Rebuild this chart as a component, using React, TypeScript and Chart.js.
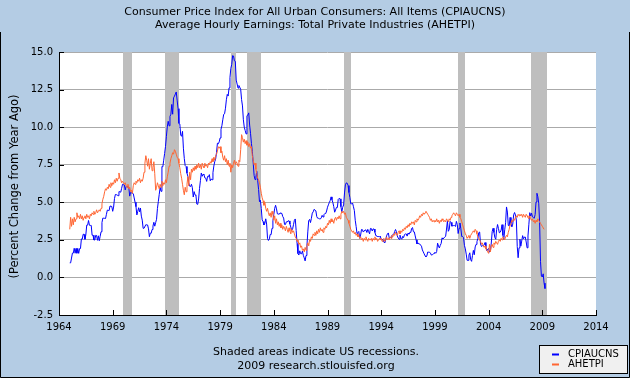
import React, { useEffect, useRef } from "react";
import { Chart, registerables } from "chart.js";

Chart.register(...registerables);

// ---------- Data ----------
const START_YEAR = 1965; // first monthly observation: January 1965

// CPIAUCNS, percent change from year ago (monthly, Jan 1965 - Apr 2009)
const cpiYoY: number[] = [
  0.97, 0.97, 1.29, 1.62, 1.62, 1.94, 1.61, 1.93, 1.61, 1.93, 1.60, 1.92,
  1.92, 2.56, 2.55, 2.87, 2.87, 2.54, 2.85, 3.48, 3.48, 3.79, 3.47, 3.46,
  3.46, 2.81, 2.81, 2.49, 2.49, 2.80, 2.79, 2.47, 2.77, 2.44, 2.74, 3.04,
  3.65, 3.95, 3.94, 3.93, 3.92, 4.20, 4.48, 4.46, 4.45, 4.75, 4.74, 4.72,
  4.40, 4.68, 5.25, 5.52, 5.51, 5.48, 5.44, 5.71, 5.70, 5.67, 5.93, 6.20,
  6.18, 6.15, 5.82, 6.06, 6.04, 6.01, 5.98, 5.41, 5.66, 5.63, 5.60, 5.57,
  5.29, 5.00, 4.71, 4.16, 4.40, 4.64, 4.36, 4.62, 4.08, 3.81, 3.27, 3.27,
  3.27, 3.51, 3.50, 3.49, 3.23, 2.71, 2.95, 2.94, 3.19, 3.42, 3.67, 3.41,
  3.65, 3.87, 4.59, 5.06, 5.53, 5.99, 5.73, 7.38, 7.36, 7.80, 8.25, 8.71,
  9.39, 10.02, 10.39, 10.09, 10.71, 10.86, 11.51, 10.86, 11.95, 12.06, 12.20, 12.34,
  11.80, 11.23, 10.25, 10.21, 9.47, 9.39, 9.72, 8.60, 7.91, 7.44, 7.38, 6.94,
  6.72, 6.29, 6.07, 6.05, 6.20, 5.97, 5.35, 5.71, 5.49, 5.46, 4.88, 4.86,
  5.22, 5.91, 6.44, 6.95, 6.73, 6.87, 6.83, 6.62, 6.60, 6.39, 6.72, 6.70,
  6.84, 6.43, 6.55, 6.50, 6.97, 7.41, 7.70, 7.87, 8.31, 8.93, 8.89, 9.02,
  9.28, 9.86, 10.09, 10.49, 10.85, 10.89, 11.26, 11.82, 12.18, 12.07, 12.61, 13.29,
  13.91, 14.18, 14.76, 14.73, 14.41, 14.38, 13.13, 12.87, 12.60, 12.77, 12.65, 12.52,
  11.83, 11.41, 10.49, 10.00, 9.78, 9.55, 10.76, 10.80, 10.95, 10.14, 9.59, 8.92,
  8.39, 7.62, 6.78, 6.51, 6.68, 7.06, 6.44, 5.85, 5.04, 5.14, 4.59, 3.83,
  3.71, 3.49, 3.60, 3.90, 3.55, 2.58, 2.46, 2.56, 2.86, 2.85, 3.27, 3.79,
  4.19, 4.60, 4.80, 4.56, 4.23, 4.22, 4.20, 4.29, 4.27, 4.26, 4.05, 3.95,
  3.53, 3.52, 3.70, 3.69, 3.77, 3.76, 3.55, 3.35, 3.14, 3.23, 3.51, 3.80,
  3.89, 3.11, 2.26, 1.59, 1.49, 1.77, 1.58, 1.57, 1.75, 1.47, 1.30, 1.10,
  1.46, 2.10, 3.03, 3.78, 3.86, 3.65, 3.93, 4.28, 4.36, 4.53, 4.53, 4.43,
  4.05, 3.94, 3.93, 3.90, 3.89, 3.96, 4.13, 4.02, 4.17, 4.25, 4.25, 4.42,
  4.67, 4.83, 4.98, 5.11, 5.36, 5.17, 4.98, 4.71, 4.34, 4.49, 4.66, 4.65,
  5.20, 5.26, 5.23, 4.71, 4.36, 4.67, 4.82, 5.62, 6.16, 6.29, 6.27, 6.11,
  5.65, 5.31, 4.90, 4.89, 4.95, 4.70, 4.45, 3.80, 3.39, 2.92, 2.99, 3.06,
  2.60, 2.82, 3.19, 3.18, 3.02, 3.09, 3.16, 3.15, 2.99, 3.20, 3.05, 2.90,
  3.26, 3.25, 3.09, 3.23, 3.22, 3.00, 2.78, 2.77, 2.69, 2.75, 2.68, 2.75,
  2.52, 2.52, 2.51, 2.36, 2.29, 2.49, 2.77, 2.90, 2.96, 2.61, 2.67, 2.67,
  2.80, 2.86, 2.85, 3.05, 3.19, 3.04, 2.76, 2.62, 2.54, 2.81, 2.61, 2.54,
  2.73, 2.65, 2.84, 2.90, 2.89, 2.75, 2.95, 2.88, 3.00, 2.99, 3.26, 3.32,
  3.04, 3.03, 2.76, 2.50, 2.23, 2.30, 2.23, 2.23, 2.15, 2.08, 1.83, 1.70,
  1.57, 1.44, 1.37, 1.44, 1.69, 1.68, 1.68, 1.62, 1.49, 1.49, 1.55, 1.61,
  1.67, 1.61, 1.73, 2.28, 2.09, 1.96, 2.14, 2.26, 2.63, 2.56, 2.62, 2.68,
  2.74, 3.22, 3.76, 3.07, 3.19, 3.73, 3.66, 3.41, 3.45, 3.45, 3.45, 3.39,
  3.73, 3.53, 2.92, 3.27, 3.62, 3.25, 2.72, 2.72, 2.65, 2.13, 1.90, 1.55,
  1.14, 1.14, 1.48, 1.64, 1.18, 1.07, 1.46, 1.80, 1.51, 2.03, 2.20, 2.38,
  2.60, 2.98, 3.02, 2.22, 2.06, 2.11, 2.11, 2.16, 2.32, 2.04, 1.77, 1.88,
  1.93, 1.69, 1.74, 2.29, 3.05, 3.27, 2.99, 2.65, 2.54, 3.19, 3.52, 3.26,
  2.97, 3.01, 3.15, 3.51, 2.80, 2.53, 3.17, 3.64, 4.69, 4.35, 3.46, 3.42,
  3.99, 3.60, 3.36, 3.55, 4.17, 4.32, 4.15, 3.82, 2.06, 1.31, 1.97, 2.54,
  2.08, 2.42, 2.78, 2.57, 2.69, 2.69, 2.36, 1.97, 2.76, 3.54, 4.31, 4.08,
  4.28, 4.03, 3.98, 3.94, 4.18, 5.02, 5.60, 5.37, 4.94, 3.66, 1.07, 0.09,
  0.03, 0.24, -0.38, -0.74,
];

// AHETPI, percent change from year ago (monthly, Jan 1965 - Apr 2009)
const aheYoY: number[] = [
  3.2, 4.0, 3.4, 3.9, 3.5, 4.0, 3.7, 3.9, 4.3, 4.0, 4.1, 3.9,
  4.2, 3.9, 4.1, 3.8, 4.0, 4.1, 3.9, 4.2, 4.0, 4.1, 3.9, 4.2,
  4.1, 4.3, 4.2, 4.4, 4.2, 4.3, 4.5, 4.3, 4.4, 4.5, 4.4, 4.6,
  4.9, 5.2, 5.4, 5.7, 5.9, 5.8, 6.0, 5.9, 6.2, 6.0, 6.3, 6.1,
  6.3, 6.2, 6.5, 6.3, 6.6, 6.4, 6.6, 6.95, 6.6, 6.5, 6.3, 6.4,
  6.3, 6.2, 6.3, 6.1, 6.0, 6.2, 5.9, 6.0, 5.7, 5.8, 5.6, 6.1,
  6.3, 6.2, 6.4, 6.3, 6.5, 6.4, 6.6, 6.3, 6.5, 6.4, 6.6, 7.0,
  7.6, 8.1, 7.8, 7.4, 7.9, 7.2, 7.6, 7.9, 7.1, 7.3, 7.7, 6.9,
  5.8, 6.0, 6.3, 6.1, 5.9, 6.2, 6.0, 6.4, 6.1, 6.3, 6.2, 6.5,
  6.3, 6.7, 7.0, 7.4, 7.6, 7.9, 8.1, 8.3, 8.2, 8.5, 8.4, 8.2,
  8.0, 7.9, 7.6, 7.3, 6.9, 6.6, 6.2, 5.8, 5.5, 6.0, 5.7, 6.2,
  6.7, 6.1, 7.0, 6.5, 7.2, 7.0, 7.3, 7.1, 7.4, 7.2, 7.5, 7.3,
  7.6, 7.3, 7.5, 7.2, 7.6, 7.4, 7.3, 7.6, 7.4, 7.5, 7.3, 7.6,
  7.5, 7.7, 7.6, 7.9, 7.7, 8.0, 7.8, 8.1, 8.2, 8.4, 8.7, 8.6,
  8.7, 8.3, 8.4, 8.0, 7.8, 8.1, 7.7, 7.9, 7.5, 7.8, 7.4, 7.6,
  7.0, 7.5, 7.3, 7.6, 7.8, 7.5, 7.7, 7.6, 7.4, 7.8, 7.7, 8.5,
  9.5, 9.3, 9.0, 9.2, 8.9, 9.1, 8.8, 9.0, 8.7, 8.9, 8.6, 8.7,
  8.1, 7.8, 7.5, 7.6, 7.2, 6.9, 6.6, 6.5, 6.3, 6.0, 5.6, 5.3,
  5.1, 4.8, 5.0, 4.6, 4.4, 4.6, 4.3, 4.1, 4.3, 4.0, 4.4, 4.2,
  3.8, 4.1, 3.6, 3.9, 3.5, 3.7, 3.4, 3.6, 3.3, 3.5, 3.2, 3.4,
  3.3, 3.1, 3.4, 3.2, 3.0, 3.3, 3.1, 2.9, 3.2, 3.0, 3.1, 2.9,
  2.7, 2.6, 2.4, 2.5, 2.2, 2.3, 2.0, 2.1, 1.8, 1.9, 1.7, 2.0,
  1.8, 2.1, 2.3, 2.1, 2.5, 2.4, 2.7, 2.6, 2.9, 2.8, 3.0, 2.8,
  3.1, 2.9, 3.2, 3.0, 3.3, 3.1, 3.2, 3.0, 3.3, 3.2, 3.4, 3.3,
  3.6, 3.5, 3.8, 3.6, 3.9, 3.7, 3.8, 3.6, 3.9, 4.0, 3.8, 4.0,
  3.9, 4.1, 3.9, 4.2, 4.4, 4.3, 4.4, 4.2, 4.3, 4.0, 3.9, 3.8,
  3.6, 3.4, 3.2, 3.1, 3.0, 3.1, 2.9, 3.0, 2.8, 2.9, 2.7, 2.8,
  2.6, 2.7, 2.5, 2.6, 2.4, 2.6, 2.5, 2.7, 2.5, 2.4, 2.6, 2.5,
  2.5, 2.6, 2.4, 2.6, 2.5, 2.7, 2.5, 2.6, 2.4, 2.5, 2.6, 2.5,
  2.6, 2.4, 2.5, 2.6, 2.4, 2.5, 2.7, 2.5, 2.6, 2.5, 2.7, 2.6,
  2.8, 2.7, 2.9, 2.8, 3.0, 2.9, 2.8, 3.0, 3.1, 2.9, 3.1, 3.0,
  3.2, 3.1, 3.3, 3.2, 3.4, 3.3, 3.5, 3.4, 3.6, 3.5, 3.7, 3.6,
  3.7, 3.5, 3.8, 3.7, 3.9, 3.8, 3.9, 4.1, 4.0, 4.2, 4.1, 4.3,
  4.2, 4.3, 4.4, 4.3, 4.2, 4.1, 4.0, 3.8, 3.9, 3.7, 3.8, 3.7,
  3.8, 3.7, 3.9, 3.7, 3.8, 3.6, 3.8, 3.7, 3.9, 3.8, 3.7, 3.8,
  3.7, 3.9, 3.8, 3.7, 3.9, 3.8, 4.0, 4.1, 4.2, 4.3, 4.2, 4.1,
  4.3, 4.2, 4.1, 4.2, 4.0, 3.9, 3.7, 3.5, 3.3, 3.1, 2.9, 2.8,
  2.6, 2.7, 2.8, 2.6, 2.8, 2.9, 3.0, 3.1, 3.0, 3.2, 3.1, 2.9,
  2.7, 2.6, 2.5, 2.4, 2.2, 2.3, 2.1, 2.0, 2.1, 1.9, 1.8, 1.7,
  1.6, 2.2, 1.7, 2.1, 2.2, 2.0, 2.3, 2.2, 2.4, 2.3, 2.2, 2.4,
  2.5, 2.4, 2.6, 2.5, 2.7, 2.6, 2.5, 2.7, 2.8, 2.7, 3.0, 3.2,
  3.5, 3.6, 3.8, 3.7, 3.9, 3.8, 4.0, 4.1, 4.0, 4.2, 4.1, 4.2,
  4.1, 4.2, 4.0, 4.2, 4.1, 4.0, 4.2, 4.1, 4.0, 3.9, 4.1, 3.9,
  3.8, 3.9, 3.7, 3.8, 3.6, 3.8, 3.7, 3.9, 3.8, 3.7, 3.6, 3.5,
  3.4, 3.3, 3.2, 3.2,
];

// US recessions: [start year, start month, end year, end month]
const recessions: [number, number, number, number][] = [
  [1969, 12, 1970, 11],
  [1973, 11, 1975, 3],
  [1980, 1, 1980, 7],
  [1981, 7, 1982, 11],
  [1990, 7, 1991, 3],
  [2001, 3, 2001, 11],
  [2007, 12, 2009, 6],
];

const seriesNames = ["CPIAUCNS", "AHETPI"];
const seriesColors = ["#0000ff", "#ff6633"];
const titleLines = [
  "Consumer Price Index for All Urban Consumers: All Items (CPIAUCNS)",
  "Average Hourly Earnings: Total Private Industries (AHETPI)",
];
const yAxisTitle = "(Percent Change from Year Ago)";
const footerLines = ["Shaded areas indicate US recessions.", "2009 research.stlouisfed.org"];
const X_MIN = 1964, X_MAX = 2014, X_STEP = 5;
const Y_MIN = -2.5, Y_MAX = 15, Y_STEP = 2.5;

// ---------- Styling ----------
const BG = "#b4cce4";
const FONT = "DejaVu Sans";

const toPoints = (vals: number[]) =>
  vals.map((v, i) => ({ x: START_YEAR + i / 12, y: v }));
const ym = (y: number, m: number) => y + (m - 1) / 12;

const fredPlugin = {
  id: "fredStyle",
  beforeDraw(chart: any) {
    const { ctx, chartArea: a, width, height } = chart;
    ctx.save();
    ctx.fillStyle = BG;
    ctx.fillRect(0, 0, width, height);
    ctx.fillStyle = "#ffffff";
    ctx.fillRect(a.left, a.top, a.right - a.left, a.bottom - a.top);
    ctx.restore();
  },
  beforeDatasetsDraw(chart: any) {
    const { ctx, chartArea: a, scales } = chart;
    const xs = scales.x;
    ctx.save();
    ctx.fillStyle = "#bebebe";
    recessions.forEach(([sy, sm, ey, em]) => {
      const x0 = Math.round(xs.getPixelForValue(ym(sy, sm)));
      const x1 = Math.round(xs.getPixelForValue(ym(ey, em)));
      ctx.fillRect(x0, a.top, x1 - x0, a.bottom - a.top);
    });
    ctx.restore();
  },
  afterDraw(chart: any) {
    const { ctx, chartArea: a, scales, width, height } = chart;
    const xs = scales.x, ys = scales.y;
    ctx.save();
    // axes
    ctx.strokeStyle = "#000";
    ctx.lineWidth = 1;
    ctx.beginPath();
    ctx.moveTo(a.left + 0.5, a.top);
    ctx.lineTo(a.left + 0.5, a.bottom + 1);
    ctx.moveTo(a.left, a.bottom + 0.5);
    ctx.lineTo(a.right + 1, a.bottom + 0.5);
    // inside ticks
    xs.ticks.forEach((t: any) => {
      const px = Math.round(xs.getPixelForValue(t.value)) + 0.5;
      ctx.moveTo(px, a.bottom);
      ctx.lineTo(px, a.bottom - 5);
    });
    ys.ticks.forEach((t: any) => {
      const py = Math.round(ys.getPixelForValue(t.value)) + 0.5;
      ctx.moveTo(a.left, py);
      ctx.lineTo(a.left + 5, py);
    });
    ctx.stroke();

    // titles
    ctx.fillStyle = "#000";
    ctx.font = `11px "${FONT}"`;
    ctx.textAlign = "center";
    ctx.textBaseline = "middle";
    ctx.fillText(titleLines[0], width / 2, 12.5);
    ctx.fillText(titleLines[1], width / 2, 25.5);
    // footer
    ctx.fillText(footerLines[0], width / 2 + 1, 352);
    ctx.fillText(footerLines[1], width / 2 + 1, 366.5);
    // y-axis title
    ctx.save();
    ctx.translate(15, (a.top + a.bottom) / 2 + 3);
    ctx.rotate(-Math.PI / 2);
    ctx.font = `11.5px "${FONT}"`;
    ctx.fillText(yAxisTitle, 0, 0);
    ctx.restore();

    // legend
    const lx = 539, ly = 345, lw = 89, lh = 29;
    ctx.fillStyle = "#f0f0f0";
    ctx.fillRect(lx, ly, lw, lh);
    ctx.strokeStyle = "#000";
    ctx.strokeRect(lx + 0.5, ly + 0.5, lw - 1, lh - 1);
    ctx.textAlign = "left";
    ctx.font = `10px "${FONT}"`;
    chart.data.datasets.forEach((ds: any, i: number) => {
      const yy = ly + 9.5 + i * 10;
      ctx.strokeStyle = ds.borderColor;
      ctx.lineWidth = 2;
      ctx.beginPath();
      ctx.moveTo(lx + 13, yy);
      ctx.lineTo(lx + 20, yy);
      ctx.stroke();
      ctx.fillStyle = "#000";
      ctx.fillText(ds.label, lx + 29, yy);
    });

    // outer frame
    ctx.strokeStyle = "#000";
    ctx.lineWidth = 1;
    ctx.beginPath();
    ctx.moveTo(0.5, 32);
    ctx.lineTo(0.5, height - 0.5);
    ctx.lineTo(width - 0.5, height - 0.5);
    ctx.lineTo(width - 0.5, 32);
    ctx.stroke();
    ctx.restore();
  },
};

export default function App() {
  const canvasRef = useRef<HTMLCanvasElement | null>(null);

  useEffect(() => {
    document.body.style.margin = "0";
    const canvas = canvasRef.current;
    if (!canvas) return;
    const chart = new Chart(canvas, {
      type: "line",
      data: {
        datasets: [
          {
            label: seriesNames[0],
            data: toPoints(cpiYoY),
            borderColor: seriesColors[0],
            backgroundColor: seriesColors[0],
            borderWidth: 1,
            pointRadius: 0,
            tension: 0,
            fill: false,
            order: 2,
          },
          {
            label: seriesNames[1],
            data: toPoints(aheYoY),
            borderColor: seriesColors[1],
            backgroundColor: seriesColors[1],
            borderWidth: 1,
            pointRadius: 0,
            tension: 0,
            fill: false,
            order: 1,
          },
        ],
      },
      options: {
        responsive: false,
        devicePixelRatio: 1,
        animation: false,
        events: [],
        layout: { padding: { top: 52, right: 34, left: 0, bottom: 0 } },
        plugins: {
          legend: { display: false },
          tooltip: { enabled: false },
          title: { display: false },
        },
        scales: {
          x: {
            type: "linear",
            min: X_MIN,
            max: X_MAX,
            afterFit: (s: any) => {
              s.height = 63;
            },
            afterBuildTicks: (s: any) => {
              const t = [];
              for (let v = X_MIN; v <= X_MAX; v += X_STEP) t.push({ value: v });
              s.ticks = t;
            },
            ticks: {
              callback: (v: any) => String(v),
              color: "#000",
              font: { family: FONT, size: 10 },
              padding: 6,
              maxRotation: 0,
              autoSkip: false,
            },
            grid: { display: false, drawTicks: false },
            border: { display: false },
          },
          y: {
            type: "linear",
            min: Y_MIN,
            max: Y_MAX,
            afterFit: (s: any) => {
              s.width = 59;
            },
            ticks: {
              stepSize: Y_STEP,
              callback: (v: any) => Number(v).toFixed(1),
              color: "#000",
              font: { family: FONT, size: 10 },
              padding: 6,
            },
            grid: { color: "#aaaaaa", drawTicks: false, lineWidth: 1 },
            border: { display: false },
          },
        },
      },
      plugins: [fredPlugin],
    });
    return () => chart.destroy();
  }, []);

  return (
    <div style={{ width: 630, height: 378 }}>
      <canvas ref={canvasRef} width={630} height={378} style={{ display: "block" }} />
    </div>
  );
}
